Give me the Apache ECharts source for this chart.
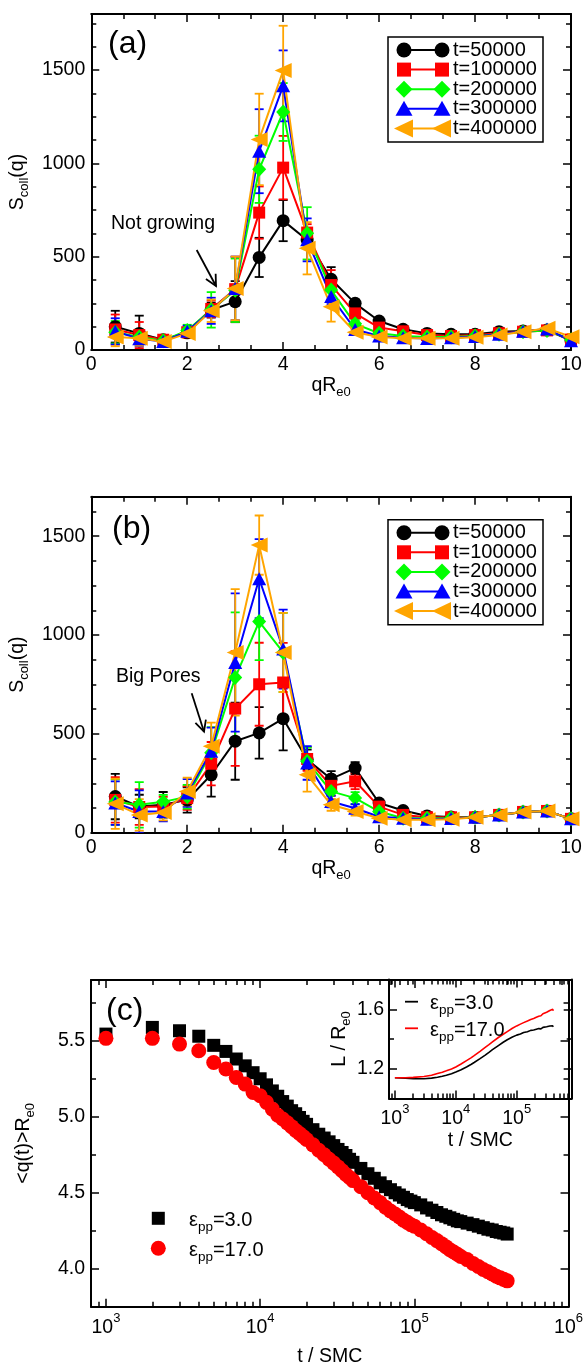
<!DOCTYPE html>
<html><head><meta charset="utf-8">
<script src="https://cdn.jsdelivr.net/npm/echarts@6/dist/echarts.min.js"></script>
<style>html,body{margin:0;padding:0;background:#fff}#c{width:586px;height:1368px}</style>
</head><body><div id="c"></div>
<script>
// ---------------- DATA ----------------
const qValues = [0.5,1,1.5,2,2.5,3,3.5,4,4.5,5,5.5,6,6.5,7,7.5,8,8.5,9,9.5,10];
const seriesNames = ['t=50000','t=100000','t=200000','t=300000','t=400000'];

// panel (a) : "Not growing"
const a_t50000  = [125,89,55,92,214,259,496,693,589,379,250,155,111,89,84,84,98,102,107,50];
const a_t50000e = [85,95,20,25,40,110,105,110,40,65,20,12,10,8,8,8,8,8,10,15];
const a_t100000  = [110,80,55,95,220,326,736,977,629,348,196,120,100,80,75,80,90,98,105,55];
const a_t100000e = [80,70,20,25,45,174,140,170,45,80,20,12,10,8,8,8,8,8,10,15];
const a_t200000  = [95,70,50,105,215,320,968,1275,625,321,140,90,75,70,70,75,85,98,105,55];
const a_t200000e = [60,40,20,30,95,170,180,155,140,60,20,12,10,8,8,8,8,8,10,15];
const a_t300000  = [100,60,45,100,210,330,1065,1415,590,286,110,75,65,62,65,72,85,100,112,50];
const a_t300000e = [70,40,20,30,70,170,225,190,115,40,15,10,8,8,8,8,8,8,10,15];
const a_t400000  = [70,63,45,89,210,330,1128,1497,545,232,95,70,63,63,63,68,80,98,116,71];
const a_t400000e = [50,40,20,25,60,170,245,240,140,80,15,10,8,8,8,8,8,8,10,15];

// panel (b) : "Big Pores"
const b_t50000  = [183,132,141,166,293,463,505,577,370,272,327,150,112,85,80,78,90,105,110,70];
const b_t50000e = [115,60,65,64,110,195,130,160,50,40,30,12,10,8,8,8,8,8,10,10];
const b_t100000  = [166,130,132,175,349,628,751,760,373,237,260,132,90,78,78,78,90,105,110,70];
const b_t100000e = [115,90,50,60,110,290,210,200,60,50,40,12,10,8,8,8,8,8,10,10];
const b_t200000  = [155,141,156,182,404,785,1068,912,361,209,175,107,73,73,75,78,90,105,110,70];
const b_t200000e = [115,115,35,60,130,330,195,200,70,40,30,10,8,8,8,8,8,8,10,10];
const b_t300000  = [150,107,107,201,412,861,1285,929,353,158,124,81,73,68,72,78,90,105,110,70];
const b_t300000e = [110,107,50,70,120,350,200,200,85,30,20,10,8,8,8,8,8,8,10,10];
const b_t400000  = [146,90,102,209,437,912,1455,912,293,141,107,73,65,65,68,78,90,105,110,70];
const b_t400000e = [127,80,40,70,120,320,150,200,85,30,20,10,8,8,8,8,8,8,10,10];

// panel (c) : <q(t)>R_e0 vs t
const cTimes = [1000,2000,3000,4000,5000,6000,7000,8000,9000,10000,
  11000,12000,13000,14000,15000,16000,17000,18000,19000,20000,
  22000,24000,26000,28000,30000,32000,34000,36000,38000,40000,
  45000,50000,55000,60000,65000,70000,75000,80000,85000,90000,95000,100000,
  110000,120000,130000,140000,150000,160000,170000,180000,190000,200000,
  220000,240000,260000,280000,300000,320000,340000,360000,380000,400000];
const cEps3 = [5.544,5.588,5.566,5.53,5.47,5.43,5.38,5.335,5.29,5.25,
  5.21,5.17,5.135,5.10,5.07,5.04,5.02,4.995,4.97,4.95,
  4.915,4.885,4.86,4.835,4.81,4.785,4.765,4.745,4.72,4.70,
  4.66,4.625,4.595,4.565,4.54,4.52,4.50,4.485,4.47,4.455,4.445,4.435,
  4.42,4.40,4.385,4.37,4.355,4.345,4.335,4.325,4.315,4.31,
  4.30,4.29,4.28,4.27,4.26,4.255,4.245,4.24,4.235,4.228];
const cEps17 = [5.516,5.516,5.478,5.434,5.357,5.314,5.259,5.215,5.16,5.138,
  5.095,5.05,5.01,4.985,4.96,4.935,4.91,4.89,4.87,4.85,
  4.815,4.78,4.75,4.72,4.695,4.67,4.645,4.62,4.60,4.58,
  4.54,4.50,4.465,4.435,4.405,4.38,4.36,4.34,4.32,4.305,4.29,4.28,
  4.255,4.23,4.205,4.185,4.165,4.145,4.125,4.11,4.095,4.08,
  4.06,4.035,4.015,3.995,3.98,3.965,3.95,3.94,3.93,3.92];

// inset : L/R_e0 vs t
const insetTimes = [1000,1500,2000,3000,4000,5000,6000,7000,8500,10000,12000,15000,18000,20000,25000,30000,35000,40000,50000,60000,70000,85000,100000,115000,130000,150000,170000,190000,210000,230000,250000,270000,290000,310000,330000,350000,370000,390000,400000];
const insetEps3 = [1.140,1.136,1.133,1.133,1.137,1.143,1.149,1.156,1.167,1.178,1.192,1.212,1.230,1.242,1.268,1.290,1.310,1.328,1.356,1.378,1.395,1.413,1.426,1.434,1.444,1.449,1.458,1.461,1.466,1.470,1.468,1.478,1.472,1.482,1.476,1.487,1.479,1.488,1.482];
const insetEps17 = [1.140,1.140,1.142,1.148,1.156,1.168,1.177,1.186,1.198,1.212,1.230,1.255,1.275,1.288,1.317,1.342,1.362,1.380,1.410,1.432,1.450,1.472,1.488,1.500,1.510,1.521,1.531,1.538,1.546,1.553,1.556,1.570,1.566,1.580,1.574,1.592,1.582,1.600,1.590];

// tick labels
const abXTicks = [0,2,4,6,8,10];
const aYTicks = [0,500,1000,1500];
const bYTicks = [0,500,1000,1500];
const cXTicks = [3,4,5,6];       // powers of ten
const cYTicks = [4.0,4.5,5.0,5.5];
const insetXTicks = [3,4,5];
const insetYTicks = [1.2,1.6];

// ---------------- STYLE ----------------
const FF = 'Liberation Sans, Arial, Helvetica, sans-serif';
const FS = 19.5;
const colors = ['#000000','#ff0000','#00ff00','#0000ff','#ffa500'];
const LEFT_TRI = 'path://M0,50 L100,0 L100,100 Z';
const symbols = ['circle','rect','diamond','triangle',LEFT_TRI];
const symSizes = [13,12,[14,15],[14,13],[17,15]];

const richSub = {
  a:{fontSize:FS,fontFamily:FF,color:'#000',lineHeight:20,verticalAlign:'top'},
  s:{fontSize:13,fontFamily:FF,color:'#000',lineHeight:14,padding:[10,0,0,0],verticalAlign:'top'}
};
const richSup = {
  b:{fontSize:FS,fontFamily:FF,color:'#000',lineHeight:20,padding:[6,0,0,0],verticalAlign:'top'},
  s:{fontSize:13,fontFamily:FF,color:'#000',lineHeight:14,verticalAlign:'top'}
};

const chart = echarts.init(document.getElementById('c'), null, {renderer:'canvas'});

const xAxes = [], yAxes = [];
function addAxes(list, dim, grid, min, max, majors, minors, label, nameCfg) {
  const pos = dim === 'x' ? ['bottom','top'] : ['left','right'];
  const common = {type:'value', gridIndex:grid, min:min, max:max, splitLine:{show:false}, scale:false};
  const ls = {color:'#000', width:2};
  const tls = {color:'#000', width:1.5};
  const idx = list.length;
  list.push(Object.assign({}, common, {
    position:pos[0],
    axisLine:{show:true, onZero:false, lineStyle:ls},
    axisTick:{show:true, inside:true, length:8, customValues:majors, lineStyle:tls},
    axisLabel:Object.assign({show:true, color:'#000', fontSize:FS, fontFamily:FF, formatter:v=>String(v)}, label)
  }, nameCfg || {}));
  list.push(Object.assign({}, common, {position:pos[0], axisLine:{show:false,onZero:false},
    axisTick:{show:true, inside:true, length:5, customValues:minors, lineStyle:tls}, axisLabel:{show:false}}));
  list.push(Object.assign({}, common, {position:pos[1], axisLine:{show:true,onZero:false,lineStyle:ls},
    axisTick:{show:true, inside:true, length:8, customValues:majors, lineStyle:tls}, axisLabel:{show:false}}));
  list.push(Object.assign({}, common, {position:pos[1], axisLine:{show:false,onZero:false},
    axisTick:{show:true, inside:true, length:5, customValues:minors, lineStyle:tls}, axisLabel:{show:false}}));
  return idx;
}
function nameCfg(name, gap, rotate, rich) {
  return {name:name, nameLocation:'middle', nameGap:gap, nameRotate:rotate,
    nameTextStyle:{fontSize:FS, fontFamily:FF, color:'#000', rich:rich}};
}

// tick helpers
const abXMinor = []; for (let k = 1; k < 15; k++) if (k % 3) abXMinor.push(k * 2 / 3);
const abYMinor = []; for (let k = 1; k <= 14; k++) if (k % 4) abYMinor.push(k * 125);
const logMinor = (lo, hi) => { const r = []; for (let n = 2; n <= 6; n++) for (let k = 2; k <= 9; k++) { const v = Math.log10(k * Math.pow(10, n)); if (v > lo && v < hi) r.push(v); } return r; };
const supFmt = v => '{b|10}{s|' + Math.round(v) + '}';

const grids = [
  {left:91, top:14, width:480, height:336},
  {left:91, top:496.7, width:480, height:336},
  {left:91, top:980, width:480.7, height:326.7},
  {left:389, top:979.5, width:182.7, height:119}
];

// panel a
const axA = addAxes(xAxes,'x',0,0,10,abXTicks,abXMinor,{customValues:abXTicks, margin:5}, nameCfg('{a|qR}{s|e0}',24,0,richSub));
const ayA = addAxes(yAxes,'y',0,0,1800,aYTicks,abYMinor,{customValues:aYTicks, margin:6}, nameCfg('{a|S}{s|coll}{a|(q)}',53,90,richSub));
// panel b
const axB = addAxes(xAxes,'x',1,0,10,abXTicks,abXMinor,{customValues:abXTicks, margin:5}, nameCfg('{a|qR}{s|e0}',24,0,richSub));
const ayB = addAxes(yAxes,'y',1,0,1700,bYTicks,abYMinor.filter(v=>v<1700),{customValues:bYTicks, margin:6}, nameCfg('{a|S}{s|coll}{a|(q)}',53,90,richSub));
// panel c
const cXMin = Math.log10(800), cXMax = 6;
const axC = addAxes(xAxes,'x',2,cXMin,cXMax,cXTicks,logMinor(cXMin,cXMax),{customValues:cXTicks, formatter:supFmt, rich:richSup, margin:5}, nameCfg('t / SMC',40,0,null));
const ayC = addAxes(yAxes,'y',2,3.75,5.9,cYTicks,[3.75,4.25,4.75,5.25,5.75],{customValues:cYTicks, formatter:v=>v.toFixed(1), margin:6}, nameCfg('{a|<q(t)>R}{s|e0}',57,90,richSub));
// inset
const iXMin = Math.log10(800), iXMax = Math.log10(800000);
const axI = addAxes(xAxes,'x',3,iXMin,iXMax,insetXTicks,logMinor(iXMin,iXMax),{customValues:insetXTicks, formatter:supFmt, rich:richSup, margin:4}, nameCfg('t / SMC',32,0,null));
const ayI = addAxes(yAxes,'y',3,1.0,1.8,insetYTicks,[1.4],{customValues:insetYTicks, formatter:v=>v.toFixed(1), margin:5}, nameCfg('{a|L / R}{s|e0}',36,90,richSub));

function errSeries(xi, yi, xs, vals, errs, color) {
  return {type:'custom', xAxisIndex:xi, yAxisIndex:yi, clip:true, silent:true, animation:false,
    data: xs.map((x,i)=>[x, vals[i]-errs[i], vals[i]+errs[i]]),
    encode:{x:0, y:[1,2]},
    renderItem:function(params, api){
      const top = api.coord([api.value(0), api.value(2)]);
      const bot = api.coord([api.value(0), api.value(1)]);
      const h = 4.5, st = {stroke:color, lineWidth:1.8};
      return {type:'group', children:[
        {type:'line', shape:{x1:top[0],y1:top[1],x2:bot[0],y2:bot[1]}, style:st},
        {type:'line', shape:{x1:top[0]-h,y1:top[1],x2:top[0]+h,y2:top[1]}, style:st},
        {type:'line', shape:{x1:bot[0]-h,y1:bot[1],x2:bot[0]+h,y2:bot[1]}, style:st}
      ]};
    }};
}
function lineSeries(xi, yi, xs, vals, k) {
  return {type:'line', name:seriesNames[k], xAxisIndex:xi, yAxisIndex:yi, animation:false, silent:true,
    data: xs.map((x,i)=>[x, vals[i]]), symbol:symbols[k], symbolSize:symSizes[k], showAllSymbol:true,
    itemStyle:{color:colors[k], opacity:1}, lineStyle:{color:colors[k], width:2}};
}

const series = [];
const aSets = [[a_t50000,a_t50000e],[a_t100000,a_t100000e],[a_t200000,a_t200000e],[a_t300000,a_t300000e],[a_t400000,a_t400000e]];
const bSets = [[b_t50000,b_t50000e],[b_t100000,b_t100000e],[b_t200000,b_t200000e],[b_t300000,b_t300000e],[b_t400000,b_t400000e]];
aSets.forEach((s,k)=>{ series.push(errSeries(axA,ayA,qValues,s[0],s[1],colors[k])); series.push(lineSeries(axA,ayA,qValues,s[0],k)); });
bSets.forEach((s,k)=>{ series.push(errSeries(axB,ayB,qValues,s[0],s[1],colors[k])); series.push(lineSeries(axB,ayB,qValues,s[0],k)); });

series.push({type:'scatter', xAxisIndex:axC, yAxisIndex:ayC, animation:false, silent:true, symbol:'rect', symbolSize:13,
  itemStyle:{color:'#000', opacity:1}, data:cTimes.map((t,i)=>[Math.log10(t), cEps3[i]])});
series.push({type:'scatter', xAxisIndex:axC, yAxisIndex:ayC, animation:false, silent:true, symbol:'circle', symbolSize:15,
  itemStyle:{color:'#ff0000', opacity:1}, data:cTimes.map((t,i)=>[Math.log10(t), cEps17[i]])});
series.push({type:'line', xAxisIndex:axI, yAxisIndex:ayI, animation:false, silent:true, showSymbol:false, symbol:'none',
  lineStyle:{color:'#000', width:1.6}, data:insetTimes.map((t,i)=>[Math.log10(t), insetEps3[i]])});
series.push({type:'line', xAxisIndex:axI, yAxisIndex:ayI, animation:false, silent:true, showSymbol:false, symbol:'none',
  lineStyle:{color:'#ff0000', width:1.6}, data:insetTimes.map((t,i)=>[Math.log10(t), insetEps17[i]])});

// ---------------- GRAPHIC (legends, labels, annotations) ----------------
function symShape(k, cx, cy) {
  const c = colors[k], st = {fill:c};
  if (k === 0) return {type:'circle', shape:{cx:cx, cy:cy, r:7.5}, style:st};
  if (k === 1) return {type:'rect', shape:{x:cx-7, y:cy-7, width:14, height:14}, style:st};
  if (k === 2) return {type:'polygon', shape:{points:[[cx,cy-8.5],[cx+8.5,cy],[cx,cy+8.5],[cx-8.5,cy]]}, style:st};
  if (k === 3) return {type:'polygon', shape:{points:[[cx,cy-8],[cx+8.5,cy+7],[cx-8.5,cy+7]]}, style:st};
  return {type:'polygon', shape:{points:[[cx-10,cy],[cx+9,cy-9],[cx+9,cy+9]]}, style:st};
}
function legendBox(x0, y0) {
  const ch = [{type:'rect', shape:{x:0,y:0,width:155,height:105}, style:{fill:'#fff', stroke:'#000', lineWidth:1.5}}];
  seriesNames.forEach((n,k)=>{
    const y = 13 + k*19.6;
    ch.push({type:'line', shape:{x1:16,y1:y,x2:54,y2:y}, style:{stroke:colors[k], lineWidth:2}});
    ch.push(symShape(k,16,y)); ch.push(symShape(k,54,y));
    ch.push({type:'text', x:65, y:y, style:{text:n, fontSize:FS+0.5, fontFamily:FF, fill:'#000', verticalAlign:'middle'}});
  });
  return {type:'group', x:x0, y:y0, z:100, children:ch};
}
function arrow(x1,y1,x2,y2) {
  const dx=x2-x1, dy=y2-y1, L=Math.hypot(dx,dy), ux=dx/L, uy=dy/L, hl=11, hw=5.5;
  const bx=x2-ux*hl, by=y2-uy*hl;
  return {type:'group', z:100, children:[
    {type:'line', shape:{x1:x1,y1:y1,x2:x2,y2:y2}, style:{stroke:'#000', lineWidth:1.8}},
    {type:'polyline', shape:{points:[[bx-uy*hw,by+ux*hw],[x2,y2],[bx+uy*hw,by-ux*hw]]}, style:{stroke:'#000', lineWidth:1.8, fill:null}}
  ]};
}
function txt(x,y,text,size,rich) {
  return {type:'text', x:x, y:y, z:100, style:{text:text, fontSize:size, fontFamily:FF, fill:'#000', verticalAlign:'middle', rich:rich}};
}
const richLeg = {
  a:{fontSize:FS+0.5,fontFamily:FF,fill:'#000',lineHeight:20,verticalAlign:'top'},
  s:{fontSize:13.5,fontFamily:FF,fill:'#000',lineHeight:14,padding:[10,0,0,0],verticalAlign:'top'}
};

const graphic = [
  legendBox(388,37),
  legendBox(388,519.7),
  txt(108,44,'(a)',32), txt(112,529,'(b)',32), txt(106,1011,'(c)',32),
  txt(111,224,'Not growing',FS), arrow(196.7,250,216,286),
  txt(116,676.5,'Big Pores',FS), arrow(191.7,693.3,204,731.7),
  {type:'rect', z:100, shape:{x:151.8,y:1211.8,width:13,height:13}, style:{fill:'#000'}},
  {type:'circle', z:100, shape:{cx:158.3,cy:1248.3,r:7.5}, style:{fill:'#ff0000'}},
  txt(189,1220,'{a|ε}{s|pp}{a|=3.0}',FS,richLeg),
  txt(189,1250,'{a|ε}{s|pp}{a|=17.0}',FS,richLeg),
  {type:'line', z:100, shape:{x1:405,y1:1001.7,x2:418,y2:1001.7}, style:{stroke:'#000', lineWidth:1.8}},
  {type:'line', z:100, shape:{x1:405,y1:1028.3,x2:418,y2:1028.3}, style:{stroke:'#ff0000', lineWidth:1.8}},
  txt(430,1003.5,'{a|ε}{s|pp}{a|=3.0}',FS,richLeg),
  txt(430,1030,'{a|ε}{s|pp}{a|=17.0}',FS,richLeg)
];

chart.setOption({
  backgroundColor:'#fff',
  animation:false,
  textStyle:{fontFamily:FF},
  grid:grids,
  xAxis:xAxes,
  yAxis:yAxes,
  series:series,
  graphic:graphic
});
</script></body></html>
